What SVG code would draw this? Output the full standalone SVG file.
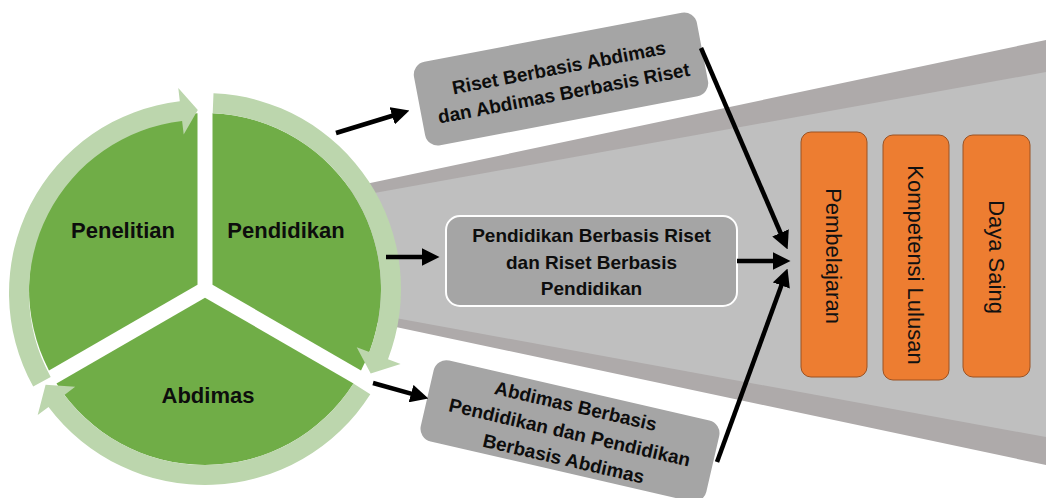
<svg xmlns="http://www.w3.org/2000/svg" width="1046" height="498" viewBox="0 0 1046 498">
<defs>
<style>
.seg{fill:#70ad47}
.ring{fill:#bcd6ad}
.lbl{font-family:"Liberation Sans",Arial,sans-serif;font-weight:bold;font-size:22px;fill:#0d0d0d;text-anchor:middle}
.box{fill:#a5a5a5;stroke:#ffffff;stroke-width:2}
.btx{font-family:"Liberation Sans",Arial,sans-serif;font-weight:bold;font-size:19px;fill:#0d0d0d;text-anchor:middle}
.ob{fill:#ed7d31;stroke:#9c5222;stroke-width:1}
.otx{font-family:"Liberation Sans",Arial,sans-serif;font-size:22px;fill:#111;text-anchor:middle}
.con{stroke:#000;stroke-width:4.5;fill:none;marker-end:url(#ah)}
</style>
<marker id="ah" markerUnits="userSpaceOnUse" markerWidth="18" markerHeight="18" viewBox="0 0 16 16" refX="4" refY="8" orient="auto">
<path d="M0,0 L16,8 L0,16 Z" fill="#000"/>
</marker>
</defs>
<g id="funnel">
<polygon points="330,191.5 1046,40 1046,465 330,313" fill="#aeaaaa"/>
<polygon points="330,201 1046,72 1046,437 330,306" fill="#bfbfbf"/>
</g>
<g id="penelitian">
<path class="seg" d="M197.5,284.67 L48.97,370.43 A176,176 0 0,1 197.5,113.16 Z"/>
<path class="ring" d="M33.2,386.6 A193,193 0 0,1 179.8,101.3 L178.3,87.9 L197.8,110.1 L183.7,134.6 L182.1,121.1 A173,173 0 0,0 50.7,376.9 Z"/>
<text class="lbl" x="123" y="238">Penelitian</text>
</g>
<g id="pendidikan">
<path class="seg" d="M212.5,284.67 L212.5,113.16 A176,176 0 0,1 361.03,370.43 Z"/>
<path class="ring" d="M213.5,93.2 A196,196 0 0,1 388.0,359.2 L400.6,364.1 L370.7,373.4 L356.7,347.2 L369.3,352.1 A176,176 0 0,0 212.7,113.2 Z"/>
<text class="lbl" x="286" y="238">Pendidikan</text>
</g>
<g id="abdimas">
<path class="seg" d="M205,297.66 L353.53,383.42 A176,176 0 0,1 56.47,383.42 Z"/>
<path class="ring" d="M370.3,394.3 A196,196 0 0,1 48.5,407.0 L37.7,415.1 L45.6,384.8 L75.2,386.8 L64.4,394.9 A176,176 0 0,0 353.4,383.6 Z"/>
<text class="lbl" x="208" y="403">Abdimas</text>
</g>
<g id="box-riset-abdimas" transform="translate(561,79) rotate(-10.8)">
<rect class="box" x="-145" y="-43.5" width="290" height="87" rx="14"/>
<text class="btx" x="0" y="-5">Riset Berbasis Abdimas</text>
<text class="btx" x="0" y="21">dan Abdimas Berbasis Riset</text>
</g>
<g id="box-pendidikan-riset">
<rect class="box" x="446" y="216" width="291" height="90" rx="14"/>
<text class="btx" x="591.5" y="242">Pendidikan Berbasis Riset</text>
<text class="btx" x="591.5" y="269">dan Riset Berbasis</text>
<text class="btx" x="591.5" y="295">Pendidikan</text>
</g>
<g id="box-abdimas-pendidikan" transform="translate(570,431) rotate(13)">
<rect class="box" x="-147.5" y="-42.5" width="295" height="85" rx="14"/>
<text class="btx" x="0" y="-19">Abdimas Berbasis</text>
<text class="btx" x="0" y="8">Pendidikan dan Pendidikan</text>
<text class="btx" x="0" y="35">Berbasis Abdimas</text>
</g>
<g id="connectors">
<line class="con" x1="336" y1="133" x2="396.5" y2="114.5"/>
<line class="con" x1="386" y1="257" x2="426" y2="257"/>
<line class="con" x1="373" y1="383" x2="415.4" y2="394.8"/>
<line class="con" x1="737" y1="261" x2="777" y2="261"/>
<line class="con" x1="701" y1="48" x2="782.3" y2="237"/>
<line class="con" x1="717" y1="462" x2="782.9" y2="281.3"/>
</g>
<g id="pembelajaran">
<rect class="ob" x="801" y="132" width="66" height="245" rx="10"/>
<text class="otx" transform="translate(834,256) rotate(90)" x="0" y="8">Pembelajaran</text>
</g>
<g id="kompetensi-lulusan">
<rect class="ob" x="883" y="135" width="66" height="245" rx="10"/>
<text class="otx" transform="translate(916,265) rotate(90)" x="0" y="8">Kompetensi Lulusan</text>
</g>
<g id="daya-saing">
<rect class="ob" x="963" y="135" width="67" height="242" rx="10"/>
<text class="otx" transform="translate(996.5,257) rotate(90)" x="0" y="8">Daya Saing</text>
</g>
</svg>
